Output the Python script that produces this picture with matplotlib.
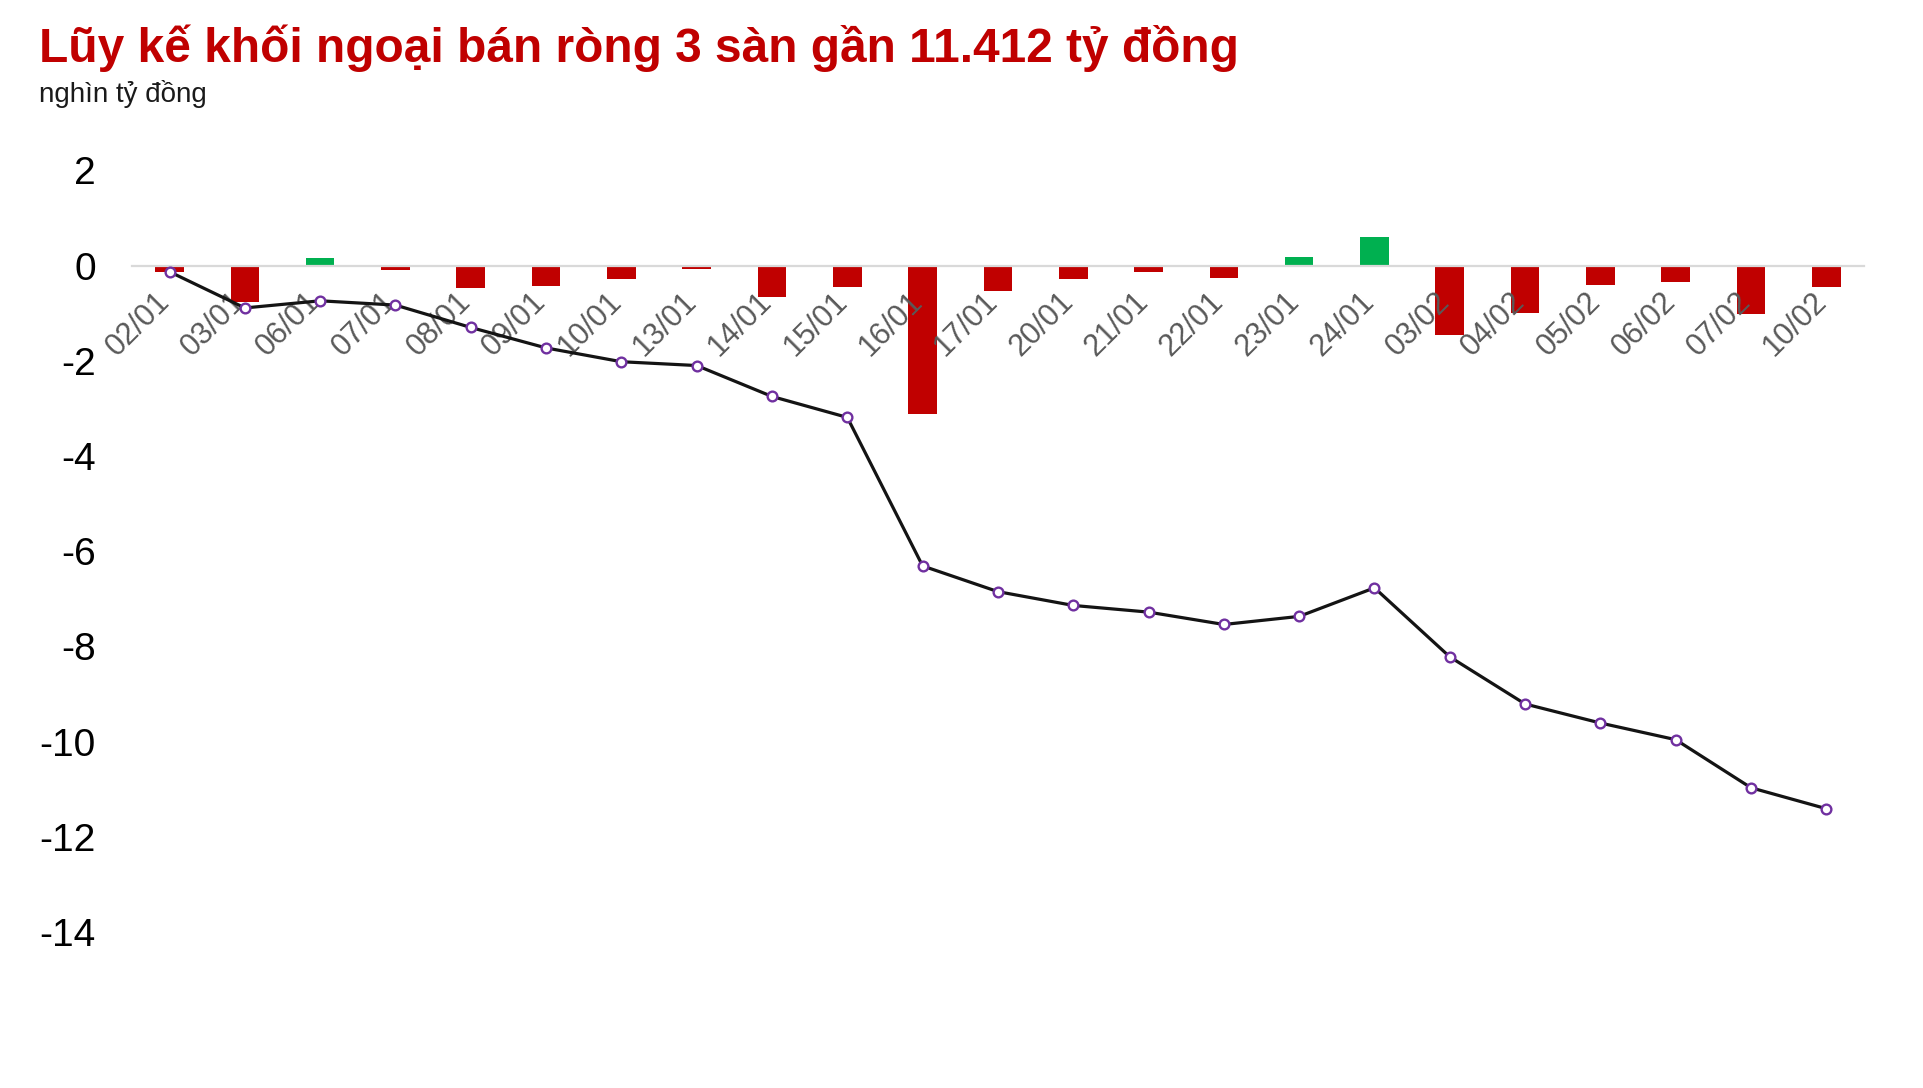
import matplotlib
matplotlib.use("Agg")
import matplotlib.pyplot as plt
import matplotlib.transforms as mtransforms

plt.rcParams['font.family'] = ['Liberation Sans', 'DejaVu Sans']

# ngày giao dịch
days = ["02/01", "03/01", "06/01", "07/01", "08/01", "09/01", "10/01", "13/01",
        "14/01", "15/01", "16/01", "17/01", "20/01", "21/01", "22/01", "23/01",
        "24/01", "03/02", "04/02", "05/02", "06/02", "07/02", "10/02"]

# giá trị ròng trong ngày (nghìn tỷ đồng)
daily = [-0.13, -0.76, 0.15, -0.09, -0.47, -0.43, -0.29, -0.08,
         -0.65, -0.44, -3.12, -0.54, -0.29, -0.14, -0.26, 0.17,
         0.60, -1.45, -0.99, -0.40, -0.35, -1.01, -0.44]

# lũy kế (nghìn tỷ đồng)
cumul = [-0.13, -0.89, -0.74, -0.83, -1.30, -1.73, -2.02, -2.10,
         -2.75, -3.19, -6.31, -6.85, -7.14, -7.28, -7.54, -7.37,
         -6.77, -8.22, -9.21, -9.61, -9.96, -10.97, -11.41]

yticks = [2, 0, -2, -4, -6, -8, -10, -12, -14]

title = "Lũy kế khối ngoại bán ròng 3 sàn gần 11.412 tỷ đồng"
unit = "nghìn tỷ đồng"

RED = "#c00000"
GREEN = "#00b050"

fig = plt.figure(figsize=(19.23, 10.88), dpi=100)
ax = fig.add_axes([0.0686, 0.1434, 0.9007, 0.7000])

x = range(len(days))
colors = [GREEN if v > 0 else RED for v in daily]
ax.bar(x, daily, width=0.38, color=colors, zorder=1)
ax.plot(x, cumul, color="#141414", lw=2.3, marker="o", ms=7,
        mfc="white", mec="#7030a0", mew=1.7, zorder=3)

ax.set_xlim(-0.5, len(days) - 0.5)
ax.set_ylim(-14, 2)
ax.set_yticks(yticks)
ax.set_yticklabels([str(t) for t in yticks])
ax.set_xticks(list(x))
ax.set_xticklabels(days)

for s in ["top", "right", "left"]:
    ax.spines[s].set_visible(False)
ax.spines["bottom"].set_position(("data", 0))
ax.spines["bottom"].set_color("#d9d9d9")
ax.spines["bottom"].set_linewidth(1.6)
ax.spines["bottom"].set_zorder(2)

ax.tick_params(axis="y", length=0, pad=26, labelsize=28, labelcolor="black")
ax.tick_params(axis="x", length=0, pad=15, labelsize=22, labelcolor="#595959",
               labelrotation=45)
shift = mtransforms.ScaledTranslation(0.06, 0, fig.dpi_scale_trans)
for lab in ax.get_xticklabels():
    lab.set_ha("right")
    lab.set_transform(lab.get_transform() + shift)

fig.text(0.0203, 0.943, title, fontsize=34.5, fontweight="bold", color=RED,
         va="baseline", ha="left")
fig.text(0.0203, 0.906, unit, fontsize=20, color="#1a1a1a",
         va="baseline", ha="left")

fig.savefig("out.png", dpi=100, facecolor="white")
